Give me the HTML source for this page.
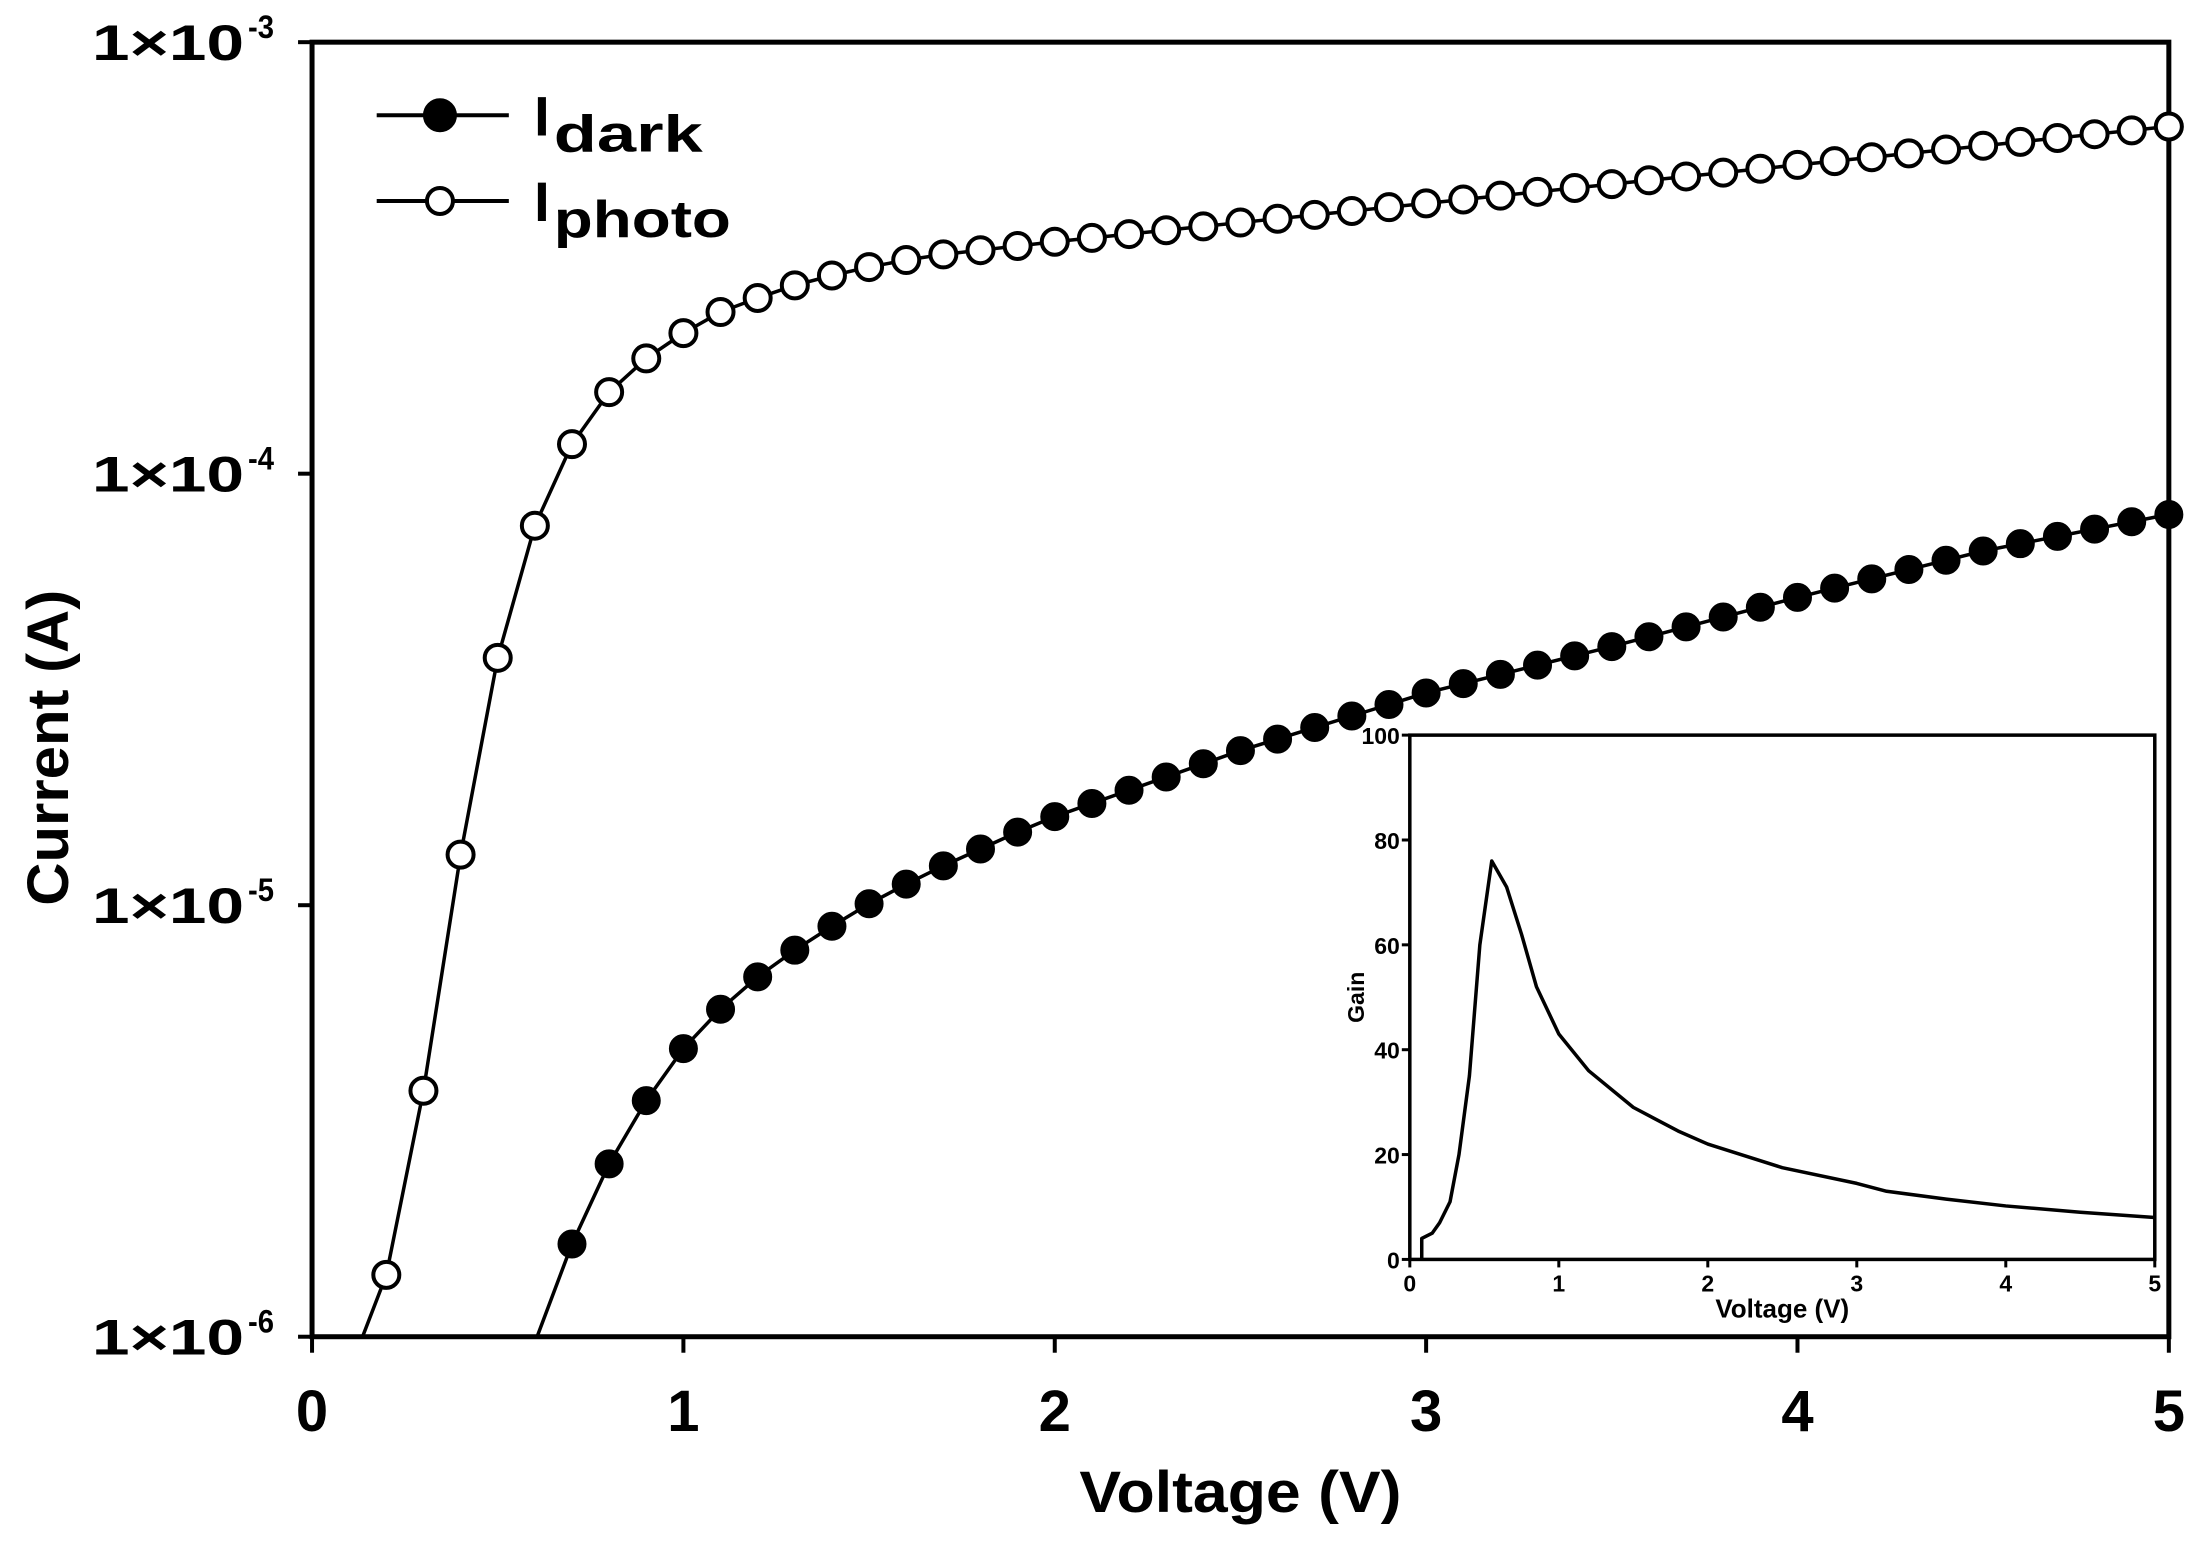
<!DOCTYPE html>
<html><head><meta charset="utf-8"><style>
html,body{margin:0;padding:0;background:#fff;}
svg{display:block;}
text{font-family:"Liberation Sans",Arial,sans-serif;font-weight:bold;fill:#000;}
</style></head><body>
<svg id="s" width="2204" height="1544" viewBox="0 0 2204 1544" xmlns="http://www.w3.org/2000/svg"></svg>
<script>
const k=1.4056, NS="http://www.w3.org/2000/svg", s=document.getElementById('s');
function el(t,a,txt){const e=document.createElementNS(NS,t);for(const n in a)e.setAttribute(n,a[n]);if(txt!==undefined)e.textContent=txt;s.appendChild(e);return e;}
const L=222*k,R=1543*k,T=30*k,B=951*k;
const X=v=>L+(R-L)*v/5;
el('rect',{x:L,y:T,width:R-L,height:B-T,fill:'none',stroke:'#000','stroke-width':5});
const dec=[[30,'-3'],[337,'-4'],[644,'-5'],[951,'-6']];
dec.forEach(([y,e])=>{y*=k;el('line',{x1:L-14,y1:y,x2:L,y2:y,stroke:'#000','stroke-width':4});
 const t=el('text',{x:92,y:y+18,'font-size':50,textLength:152,lengthAdjust:'spacingAndGlyphs'});t.textContent='1×10';
 el('text',{x:248,y:y-4,'font-size':32,textLength:26,lengthAdjust:'spacingAndGlyphs'},e);});
for(let v=0;v<=5;v++){el('line',{x1:X(v),y1:B,x2:X(v),y2:B+16,stroke:'#000','stroke-width':4});
 el('text',{x:X(v),y:1431,'font-size':58,'text-anchor':'middle'},String(v));}
el('text',{x:(768+997)/2*k,y:1512,'font-size':58,'text-anchor':'middle',textLength:322,lengthAdjust:'spacingAndGlyphs'},'Voltage (V)');
el('text',{x:0,y:0,'font-size':58,'text-anchor':'middle',textLength:316,lengthAdjust:'spacingAndGlyphs',transform:`translate(68,${532*k}) rotate(-90)`},'Current (A)');
const photo=[[0.2,907],[0.3,776],[0.4,608],[0.5,468],[0.6,374],[0.7,316],[0.8,279],[0.9,255],[1.0,237],[1.1,222],[1.2,212],[1.3,203],[1.4,196],[1.5,190],[1.6,185],[1.7,181],[1.8,178],[1.9,175],[2.0,172]];
for(let i=1;i<=30;i++){const v=2+i*0.1;photo.push([v,172-(172-90)*(v-2)/3]);}
const dark=[[0.7,885],[0.8,828],[0.9,783],[1.0,746],[1.1,718],[1.2,695],[1.3,676],[1.4,659],[1.5,643],[1.6,629],[1.7,616],[1.8,604],[1.9,592],[2.0,581]];
const da=[[2,581],[2.5,534],[3,493],[3.5,460],[4,425],[4.5,392],[5,366]];
for(let i=1;i<=30;i++){const v=2+i*0.1;let j=Math.min(5,Math.floor((v-2)/0.5+1e-9));const a=da[j],b=da[j+1]||da[j];const f=b===a?0:(v-a[0])/0.5;dark.push([v,a[1]+(b[1]-a[1])*f]);}
function series(d,start,fill){let p=`M${X(start)},${B} `+d.map(q=>`L${X(q[0])},${q[1]*k}`).join(' ');
 el('path',{d:p,fill:'none',stroke:'#000','stroke-width':3.5});
 d.forEach(q=>el('circle',{cx:X(q[0]),cy:q[1]*k,r:fill?14:13,fill:fill?'#000':'#fff',stroke:'#000','stroke-width':fill?1:4}));}
series(photo,0.136,false);series(dark,0.606,true);
[[82,true,'dark',106],[143,false,'photo',126]].forEach(([y,f,sub,w])=>{y*=k;
 el('line',{x1:268*k,y1:y,x2:362*k,y2:y,stroke:'#000','stroke-width':4});
 el('circle',{cx:313*k,cy:y,r:f?15:13,fill:f?'#000':'#fff',stroke:'#000','stroke-width':4});
 el('text',{x:380*k,y:y+20,'font-size':56,'font-weight':'normal'},'I');
 el('text',{x:394*k,y:y+36,'font-size':52,textLength:w*k,lengthAdjust:'spacingAndGlyphs'},sub);});
const iL=1003*k,iR=1533*k,iT=523*k,iB=896*k;
el('rect',{x:iL,y:iT,width:iR-iL,height:iB-iT,fill:'#fff',stroke:'#000','stroke-width':3.5});
const IX=v=>iL+(iR-iL)*v/5, IY=g=>iB-(iB-iT)*g/100;
for(let g=0;g<=100;g+=20){el('line',{x1:iL-8,y1:IY(g),x2:iL,y2:IY(g),stroke:'#000','stroke-width':3});
 el('text',{x:iL-10,y:IY(g)+9,'font-size':23,'text-anchor':'end'},String(g));}
for(let v=0;v<=5;v++){el('line',{x1:IX(v),y1:iB,x2:IX(v),y2:iB+8,stroke:'#000','stroke-width':3});
 el('text',{x:IX(v),y:iB+32,'font-size':23,'text-anchor':'middle'},String(v));}
el('text',{x:(iL+iR)/2,y:iB+58,'font-size':26,'text-anchor':'middle'},'Voltage (V)');
el('text',{x:0,y:0,'font-size':23,'text-anchor':'middle',transform:`translate(${iL-46},${(iT+iB)/2}) rotate(-90)`},'Gain');
const gain=[[0.08,0],[0.08,4],[0.15,5],[0.2,7],[0.27,11],[0.33,20],[0.4,35],[0.47,60],[0.55,76],[0.65,71],[0.75,62],[0.85,52],[1,43],[1.2,36],[1.5,29],[1.8,24.5],[2,22],[2.5,17.5],[3,14.5],[3.2,13],[3.6,11.5],[4,10.2],[4.5,9],[5,8]];
el('path',{d:gain.map((q,i)=>(i?'L':'M')+IX(q[0])+','+IY(q[1])).join(' '),fill:'none',stroke:'#000','stroke-width':3.5,'stroke-linejoin':'round'});
</script>
</body></html>
